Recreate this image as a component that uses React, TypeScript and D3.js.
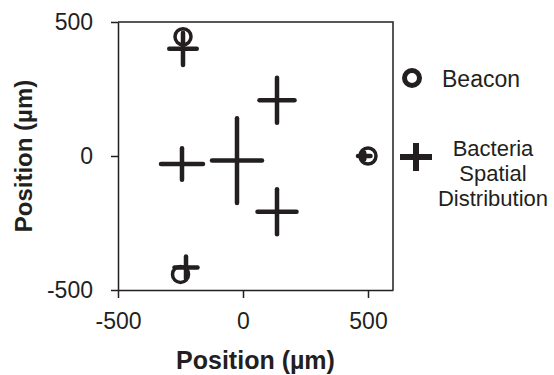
import { useEffect, useRef } from 'react'
import * as d3 from 'd3'

// beacon positions (µm)
const beaconX = [-240, -250, 500]
const beaconY = [445, -442, 0]

// bacteria spatial distribution: mean ± spread (µm)
const bactX = [-240, 136, -244, -24, 136, -228, 485]
const bactY = [400, 208, -30, -17, -208, -416, 0]
const bactXErr = [55, 70, 84, 100, 78, 46, 25]
const bactYErr = [60, 84, 59, 158, 84, 41, 12]

const xTicks = [-500, 0, 500]
const yTicks = [-500, 0, 500]

const INK = '#231f20'
const FONT = '"Liberation Sans", Arial, Helvetica, sans-serif'

export default function App() {
  const svgRef = useRef<SVGSVGElement>(null)

  useEffect(() => {
    if (!svgRef.current) return
    const width = 554
    const height = 375
    const margin = { top: 22, right: 161, bottom: 85, left: 118 }

    const svg = d3.select(svgRef.current)
    svg.selectAll('*').remove()
    svg.attr('width', width).attr('height', height)

    const x = d3.scaleLinear().domain([-500, 600]).range([margin.left, width - margin.right])
    const y = d3.scaleLinear().domain([-500, 500]).range([height - margin.bottom, margin.top])
    const fmt = (d: d3.NumberValue) => String(d)

    // frame (top + right)
    svg.append('path')
      .attr('d', `M${x(-500)},${y(500)}H${x(600)}V${y(-500)}`)
      .attr('fill', 'none')
      .attr('stroke', INK)
      .attr('stroke-width', 1.5)

    // x axis
    const gx = svg.append('g')
      .attr('transform', `translate(0,${y(-500)})`)
      .call(d3.axisBottom(x).tickValues(xTicks).tickFormat(fmt).tickSize(8).tickPadding(15).tickSizeOuter(0))
    gx.select('.domain').attr('stroke', INK).attr('stroke-width', 1.5)
    gx.selectAll('line').attr('stroke', INK).attr('stroke-width', 1.5)
    gx.selectAll('text').attr('fill', INK).attr('font-size', 23).attr('font-family', FONT)

    // y axis
    const gy = svg.append('g')
      .attr('transform', `translate(${x(-500)},0)`)
      .call(d3.axisLeft(y).tickValues(yTicks).tickFormat(fmt).tickSize(7).tickPadding(18).tickSizeOuter(0))
    gy.select('.domain').attr('stroke', INK).attr('stroke-width', 1.5)
    gy.selectAll('line').attr('stroke', INK).attr('stroke-width', 1.5)
    gy.selectAll('text').attr('fill', INK).attr('font-size', 23).attr('font-family', FONT)

    // axis titles
    svg.append('text')
      .attr('x', (x(-500) + x(600)) / 2)
      .attr('y', 369)
      .attr('text-anchor', 'middle')
      .attr('font-family', FONT)
      .attr('font-weight', 'bold')
      .attr('font-size', 25)
      .attr('fill', INK)
      .text('Position (µm)')

    svg.append('text')
      .attr('transform', `translate(32,${(y(500) + y(-500)) / 2}) rotate(-90)`)
      .attr('text-anchor', 'middle')
      .attr('font-family', FONT)
      .attr('font-weight', 'bold')
      .attr('font-size', 24)
      .attr('fill', INK)
      .text('Position (µm)')

    // bacteria crosses
    const crosses = svg.append('g')
      .attr('stroke', INK)
      .attr('stroke-width', 4.5)
      .attr('stroke-linecap', 'round')
    bactX.forEach((bx, i) => {
      const by = bactY[i]
      crosses.append('line')
        .attr('x1', x(bx - bactXErr[i])).attr('x2', x(bx + bactXErr[i]))
        .attr('y1', y(by)).attr('y2', y(by))
      crosses.append('line')
        .attr('x1', x(bx)).attr('x2', x(bx))
        .attr('y1', y(by + bactYErr[i])).attr('y2', y(by - bactYErr[i]))
    })

    // beacons
    svg.append('g')
      .selectAll('circle')
      .data(beaconX)
      .enter()
      .append('circle')
      .attr('cx', d => x(d))
      .attr('cy', (_, i) => y(beaconY[i]))
      .attr('r', 8)
      .attr('fill', 'none')
      .attr('stroke', INK)
      .attr('stroke-width', 3.5)

    // legend
    svg.append('circle')
      .attr('cx', 412).attr('cy', 78).attr('r', 7.5)
      .attr('fill', 'none').attr('stroke', INK).attr('stroke-width', 5)
    svg.append('text')
      .attr('x', 442).attr('y', 87)
      .attr('font-family', FONT).attr('font-size', 23).attr('fill', INK)
      .text('Beacon')

    svg.append('path')
      .attr('d', 'M400,157H432M416,143V171')
      .attr('stroke', INK).attr('stroke-width', 6)
    const lg = svg.append('text')
      .attr('text-anchor', 'middle')
      .attr('font-family', FONT).attr('font-size', 22).attr('fill', INK)
    ;['Bacteria', 'Spatial', 'Distribution'].forEach((t, i) => {
      lg.append('tspan').attr('x', 493).attr('y', 156 + i * 25).text(t)
    })
  }, [])

  return (
    <div style={{ position: 'absolute', left: 0, top: 0, background: '#fff' }}>
      <svg ref={svgRef} style={{ display: 'block' }} />
    </div>
  )
}
